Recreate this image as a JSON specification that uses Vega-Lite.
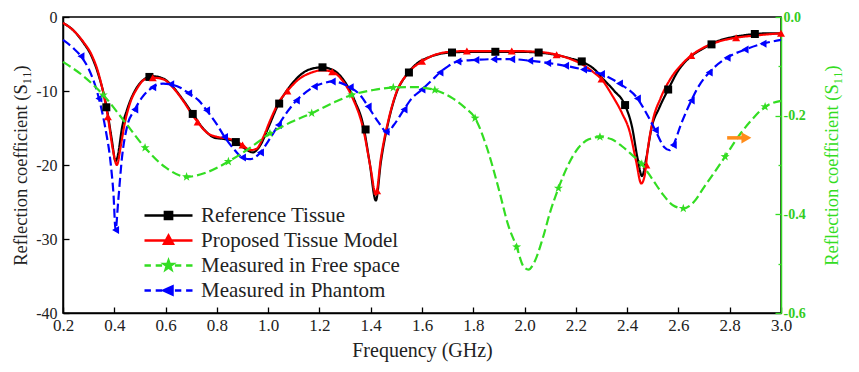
{
  "$schema": "https://vega.github.io/schema/vega-lite/v6.json",
  "width": 718,
  "height": 296,
  "autosize": {"type": "none"},
  "padding": {"left": 63, "top": 17, "right": 78, "bottom": 59},
  "background": "white",
  "config": {
    "view": {"stroke": "black", "strokeWidth": 1.5},
    "font": "Liberation Serif",
    "axis": {"grid": false, "labelFont": "Liberation Serif", "titleFont": "Liberation Serif", "labelColor": "#222", "titleColor": "#222", "titleFontWeight": "normal", "labelFlush": false, "labelOverlap": false, "labelBound": false}
  },
  "datasets": {
    "lines": [
      {"s":"Reference Tissue","f":0.2,"v":-0.8},{"s":"Reference Tissue","f":0.24,"v":-1.8},{"s":"Reference Tissue","f":0.28,"v":-3.5},{"s":"Reference Tissue","f":0.31,"v":-5.2},{"s":"Reference Tissue","f":0.34,"v":-8.0},{"s":"Reference Tissue","f":0.37,"v":-12.2},{"s":"Reference Tissue","f":0.39,"v":-16.5},{"s":"Reference Tissue","f":0.405,"v":-19.5},{"s":"Reference Tissue","f":0.415,"v":-18.5},{"s":"Reference Tissue","f":0.43,"v":-15.0},{"s":"Reference Tissue","f":0.45,"v":-12.5},{"s":"Reference Tissue","f":0.48,"v":-10.0},{"s":"Reference Tissue","f":0.51,"v":-8.6},{"s":"Reference Tissue","f":0.55,"v":-8.0},{"s":"Reference Tissue","f":0.59,"v":-8.3},{"s":"Reference Tissue","f":0.63,"v":-9.5},{"s":"Reference Tissue","f":0.67,"v":-11.3},{"s":"Reference Tissue","f":0.71,"v":-13.3},{"s":"Reference Tissue","f":0.75,"v":-15.2},{"s":"Reference Tissue","f":0.79,"v":-16.3},{"s":"Reference Tissue","f":0.83,"v":-16.5},{"s":"Reference Tissue","f":0.87,"v":-16.8},{"s":"Reference Tissue","f":0.91,"v":-17.8},{"s":"Reference Tissue","f":0.94,"v":-18.3},{"s":"Reference Tissue","f":0.97,"v":-17.3},{"s":"Reference Tissue","f":1.0,"v":-15.0},{"s":"Reference Tissue","f":1.04,"v":-11.8},{"s":"Reference Tissue","f":1.08,"v":-9.6},{"s":"Reference Tissue","f":1.12,"v":-8.0},{"s":"Reference Tissue","f":1.16,"v":-7.1},{"s":"Reference Tissue","f":1.21,"v":-6.8},{"s":"Reference Tissue","f":1.26,"v":-7.3},{"s":"Reference Tissue","f":1.3,"v":-8.8},{"s":"Reference Tissue","f":1.34,"v":-11.5},{"s":"Reference Tissue","f":1.37,"v":-14.5},{"s":"Reference Tissue","f":1.395,"v":-19.5},{"s":"Reference Tissue","f":1.42,"v":-24.8},{"s":"Reference Tissue","f":1.44,"v":-19.5},{"s":"Reference Tissue","f":1.47,"v":-14.0},{"s":"Reference Tissue","f":1.5,"v":-10.3},{"s":"Reference Tissue","f":1.54,"v":-7.8},{"s":"Reference Tissue","f":1.58,"v":-6.3},{"s":"Reference Tissue","f":1.63,"v":-5.4},{"s":"Reference Tissue","f":1.71,"v":-4.8},{"s":"Reference Tissue","f":1.8,"v":-4.7},{"s":"Reference Tissue","f":1.89,"v":-4.7},{"s":"Reference Tissue","f":1.97,"v":-4.7},{"s":"Reference Tissue","f":2.05,"v":-4.8},{"s":"Reference Tissue","f":2.12,"v":-5.1},{"s":"Reference Tissue","f":2.18,"v":-5.6},{"s":"Reference Tissue","f":2.22,"v":-6.0},{"s":"Reference Tissue","f":2.27,"v":-7.0},{"s":"Reference Tissue","f":2.31,"v":-8.5},{"s":"Reference Tissue","f":2.35,"v":-10.0},{"s":"Reference Tissue","f":2.39,"v":-11.8},{"s":"Reference Tissue","f":2.42,"v":-15.0},{"s":"Reference Tissue","f":2.44,"v":-19.0},{"s":"Reference Tissue","f":2.458,"v":-21.5},{"s":"Reference Tissue","f":2.475,"v":-19.0},{"s":"Reference Tissue","f":2.495,"v":-15.0},{"s":"Reference Tissue","f":2.525,"v":-12.3},{"s":"Reference Tissue","f":2.56,"v":-9.8},{"s":"Reference Tissue","f":2.6,"v":-7.2},{"s":"Reference Tissue","f":2.65,"v":-5.3},{"s":"Reference Tissue","f":2.7,"v":-4.2},{"s":"Reference Tissue","f":2.75,"v":-3.3},{"s":"Reference Tissue","f":2.8,"v":-2.8},{"s":"Reference Tissue","f":2.85,"v":-2.5},{"s":"Reference Tissue","f":2.9,"v":-2.3},{"s":"Reference Tissue","f":2.95,"v":-2.2},{"s":"Reference Tissue","f":3.0,"v":-2.2},

      {"s":"Proposed Tissue Model","f":0.2,"v":-0.8},{"s":"Proposed Tissue Model","f":0.24,"v":-1.8},{"s":"Proposed Tissue Model","f":0.28,"v":-3.4},{"s":"Proposed Tissue Model","f":0.31,"v":-5.0},{"s":"Proposed Tissue Model","f":0.34,"v":-7.8},{"s":"Proposed Tissue Model","f":0.375,"v":-13.5},{"s":"Proposed Tissue Model","f":0.395,"v":-18.0},{"s":"Proposed Tissue Model","f":0.41,"v":-20.0},{"s":"Proposed Tissue Model","f":0.425,"v":-17.5},{"s":"Proposed Tissue Model","f":0.44,"v":-14.5},{"s":"Proposed Tissue Model","f":0.46,"v":-11.8},{"s":"Proposed Tissue Model","f":0.49,"v":-9.6},{"s":"Proposed Tissue Model","f":0.52,"v":-8.4},{"s":"Proposed Tissue Model","f":0.55,"v":-8.2},{"s":"Proposed Tissue Model","f":0.59,"v":-8.4},{"s":"Proposed Tissue Model","f":0.63,"v":-9.6},{"s":"Proposed Tissue Model","f":0.67,"v":-11.4},{"s":"Proposed Tissue Model","f":0.7,"v":-13.0},{"s":"Proposed Tissue Model","f":0.725,"v":-14.2},{"s":"Proposed Tissue Model","f":0.76,"v":-15.6},{"s":"Proposed Tissue Model","f":0.8,"v":-16.2},{"s":"Proposed Tissue Model","f":0.84,"v":-16.4},{"s":"Proposed Tissue Model","f":0.87,"v":-16.7},{"s":"Proposed Tissue Model","f":0.9,"v":-17.3},{"s":"Proposed Tissue Model","f":0.93,"v":-18.0},{"s":"Proposed Tissue Model","f":0.955,"v":-17.8},{"s":"Proposed Tissue Model","f":0.98,"v":-16.3},{"s":"Proposed Tissue Model","f":1.01,"v":-13.8},{"s":"Proposed Tissue Model","f":1.04,"v":-11.6},{"s":"Proposed Tissue Model","f":1.075,"v":-10.0},{"s":"Proposed Tissue Model","f":1.12,"v":-8.4},{"s":"Proposed Tissue Model","f":1.17,"v":-7.5},{"s":"Proposed Tissue Model","f":1.21,"v":-7.2},{"s":"Proposed Tissue Model","f":1.25,"v":-7.4},{"s":"Proposed Tissue Model","f":1.29,"v":-8.6},{"s":"Proposed Tissue Model","f":1.33,"v":-11.0},{"s":"Proposed Tissue Model","f":1.37,"v":-15.0},{"s":"Proposed Tissue Model","f":1.4,"v":-20.5},{"s":"Proposed Tissue Model","f":1.42,"v":-24.0},{"s":"Proposed Tissue Model","f":1.44,"v":-19.0},{"s":"Proposed Tissue Model","f":1.47,"v":-13.8},{"s":"Proposed Tissue Model","f":1.5,"v":-10.2},{"s":"Proposed Tissue Model","f":1.54,"v":-7.8},{"s":"Proposed Tissue Model","f":1.6,"v":-6.0},{"s":"Proposed Tissue Model","f":1.66,"v":-5.0},{"s":"Proposed Tissue Model","f":1.71,"v":-4.7},{"s":"Proposed Tissue Model","f":1.775,"v":-4.6},{"s":"Proposed Tissue Model","f":1.85,"v":-4.6},{"s":"Proposed Tissue Model","f":1.95,"v":-4.6},{"s":"Proposed Tissue Model","f":2.05,"v":-4.7},{"s":"Proposed Tissue Model","f":2.125,"v":-5.1},{"s":"Proposed Tissue Model","f":2.18,"v":-5.7},{"s":"Proposed Tissue Model","f":2.23,"v":-6.5},{"s":"Proposed Tissue Model","f":2.27,"v":-7.5},{"s":"Proposed Tissue Model","f":2.3,"v":-8.4},{"s":"Proposed Tissue Model","f":2.34,"v":-10.5},{"s":"Proposed Tissue Model","f":2.38,"v":-13.0},{"s":"Proposed Tissue Model","f":2.41,"v":-15.5},{"s":"Proposed Tissue Model","f":2.435,"v":-19.5},{"s":"Proposed Tissue Model","f":2.455,"v":-22.5},{"s":"Proposed Tissue Model","f":2.468,"v":-21.5},{"s":"Proposed Tissue Model","f":2.48,"v":-18.0},{"s":"Proposed Tissue Model","f":2.5,"v":-14.0},{"s":"Proposed Tissue Model","f":2.53,"v":-11.0},{"s":"Proposed Tissue Model","f":2.57,"v":-8.3},{"s":"Proposed Tissue Model","f":2.61,"v":-6.5},{"s":"Proposed Tissue Model","f":2.65,"v":-5.2},{"s":"Proposed Tissue Model","f":2.7,"v":-4.1},{"s":"Proposed Tissue Model","f":2.75,"v":-3.4},{"s":"Proposed Tissue Model","f":2.825,"v":-2.8},{"s":"Proposed Tissue Model","f":2.9,"v":-2.5},{"s":"Proposed Tissue Model","f":3.0,"v":-2.2},

      {"s":"Measured in Phantom","f":0.2,"v":-3.1},{"s":"Measured in Phantom","f":0.24,"v":-4.2},{"s":"Measured in Phantom","f":0.27,"v":-5.3},{"s":"Measured in Phantom","f":0.3,"v":-7.0},{"s":"Measured in Phantom","f":0.34,"v":-11.0},{"s":"Measured in Phantom","f":0.365,"v":-15.0},{"s":"Measured in Phantom","f":0.385,"v":-19.5},{"s":"Measured in Phantom","f":0.397,"v":-24.0},{"s":"Measured in Phantom","f":0.405,"v":-28.8},{"s":"Measured in Phantom","f":0.415,"v":-25.0},{"s":"Measured in Phantom","f":0.43,"v":-19.0},{"s":"Measured in Phantom","f":0.45,"v":-14.8},{"s":"Measured in Phantom","f":0.48,"v":-12.5},{"s":"Measured in Phantom","f":0.51,"v":-10.8},{"s":"Measured in Phantom","f":0.55,"v":-9.5},{"s":"Measured in Phantom","f":0.59,"v":-9.0},{"s":"Measured in Phantom","f":0.62,"v":-9.1},{"s":"Measured in Phantom","f":0.66,"v":-9.6},{"s":"Measured in Phantom","f":0.69,"v":-10.3},{"s":"Measured in Phantom","f":0.73,"v":-11.3},{"s":"Measured in Phantom","f":0.76,"v":-12.6},{"s":"Measured in Phantom","f":0.8,"v":-14.5},{"s":"Measured in Phantom","f":0.83,"v":-16.2},{"s":"Measured in Phantom","f":0.87,"v":-18.0},{"s":"Measured in Phantom","f":0.9,"v":-19.0},{"s":"Measured in Phantom","f":0.93,"v":-19.2},{"s":"Measured in Phantom","f":0.97,"v":-18.3},{"s":"Measured in Phantom","f":1.0,"v":-16.8},{"s":"Measured in Phantom","f":1.04,"v":-14.6},{"s":"Measured in Phantom","f":1.075,"v":-12.8},{"s":"Measured in Phantom","f":1.11,"v":-11.3},{"s":"Measured in Phantom","f":1.15,"v":-10.1},{"s":"Measured in Phantom","f":1.18,"v":-9.4},{"s":"Measured in Phantom","f":1.22,"v":-8.9},{"s":"Measured in Phantom","f":1.25,"v":-8.7},{"s":"Measured in Phantom","f":1.29,"v":-9.0},{"s":"Measured in Phantom","f":1.32,"v":-9.5},{"s":"Measured in Phantom","f":1.36,"v":-10.6},{"s":"Measured in Phantom","f":1.39,"v":-12.1},{"s":"Measured in Phantom","f":1.43,"v":-14.2},{"s":"Measured in Phantom","f":1.465,"v":-15.6},{"s":"Measured in Phantom","f":1.49,"v":-14.6},{"s":"Measured in Phantom","f":1.53,"v":-12.5},{"s":"Measured in Phantom","f":1.56,"v":-11.0},{"s":"Measured in Phantom","f":1.6,"v":-9.8},{"s":"Measured in Phantom","f":1.64,"v":-8.5},{"s":"Measured in Phantom","f":1.67,"v":-7.5},{"s":"Measured in Phantom","f":1.7,"v":-6.7},{"s":"Measured in Phantom","f":1.74,"v":-6.0},{"s":"Measured in Phantom","f":1.81,"v":-5.8},{"s":"Measured in Phantom","f":1.88,"v":-5.7},{"s":"Measured in Phantom","f":1.95,"v":-5.7},{"s":"Measured in Phantom","f":2.02,"v":-5.9},{"s":"Measured in Phantom","f":2.09,"v":-6.2},{"s":"Measured in Phantom","f":2.16,"v":-6.6},{"s":"Measured in Phantom","f":2.23,"v":-7.1},{"s":"Measured in Phantom","f":2.3,"v":-7.7},{"s":"Measured in Phantom","f":2.37,"v":-9.0},{"s":"Measured in Phantom","f":2.44,"v":-11.0},{"s":"Measured in Phantom","f":2.475,"v":-13.0},{"s":"Measured in Phantom","f":2.51,"v":-15.3},{"s":"Measured in Phantom","f":2.545,"v":-17.6},{"s":"Measured in Phantom","f":2.565,"v":-18.0},{"s":"Measured in Phantom","f":2.58,"v":-17.3},{"s":"Measured in Phantom","f":2.61,"v":-14.5},{"s":"Measured in Phantom","f":2.65,"v":-11.3},{"s":"Measured in Phantom","f":2.68,"v":-9.3},{"s":"Measured in Phantom","f":2.72,"v":-7.5},{"s":"Measured in Phantom","f":2.79,"v":-5.5},{"s":"Measured in Phantom","f":2.86,"v":-4.4},{"s":"Measured in Phantom","f":2.93,"v":-3.6},{"s":"Measured in Phantom","f":3.0,"v":-3.1}
    ],
    "marks": [
      {"s":"Reference Tissue","f":0.369,"v":-12.2},{"s":"Reference Tissue","f":0.537,"v":-8.1},{"s":"Reference Tissue","f":0.706,"v":-13.1},{"s":"Reference Tissue","f":0.874,"v":-16.9},{"s":"Reference Tissue","f":1.043,"v":-11.7},{"s":"Reference Tissue","f":1.212,"v":-6.8},{"s":"Reference Tissue","f":1.38,"v":-15.2},{"s":"Reference Tissue","f":1.549,"v":-7.5},{"s":"Reference Tissue","f":1.717,"v":-4.8},{"s":"Reference Tissue","f":1.886,"v":-4.7},{"s":"Reference Tissue","f":2.055,"v":-4.8},{"s":"Reference Tissue","f":2.223,"v":-6.0},{"s":"Reference Tissue","f":2.392,"v":-11.9},{"s":"Reference Tissue","f":2.56,"v":-9.8},{"s":"Reference Tissue","f":2.729,"v":-3.7},{"s":"Reference Tissue","f":2.898,"v":-2.3},
      {"s":"Proposed Tissue Model","f":0.375,"v":-13.5},{"s":"Proposed Tissue Model","f":0.55,"v":-8.2},{"s":"Proposed Tissue Model","f":0.725,"v":-14.2},{"s":"Proposed Tissue Model","f":0.9,"v":-17.3},{"s":"Proposed Tissue Model","f":1.075,"v":-10.0},{"s":"Proposed Tissue Model","f":1.25,"v":-7.4},{"s":"Proposed Tissue Model","f":1.425,"v":-23.5},{"s":"Proposed Tissue Model","f":1.6,"v":-6.0},{"s":"Proposed Tissue Model","f":1.775,"v":-4.6},{"s":"Proposed Tissue Model","f":1.95,"v":-4.6},{"s":"Proposed Tissue Model","f":2.125,"v":-5.1},{"s":"Proposed Tissue Model","f":2.3,"v":-8.4},{"s":"Proposed Tissue Model","f":2.475,"v":-20.0},{"s":"Proposed Tissue Model","f":2.65,"v":-5.2},{"s":"Proposed Tissue Model","f":2.825,"v":-2.8},{"s":"Proposed Tissue Model","f":3.0,"v":-2.2},
      {"s":"Measured in Phantom","f":0.27,"v":-5.3},{"s":"Measured in Phantom","f":0.34,"v":-11.0},{"s":"Measured in Phantom","f":0.405,"v":-28.8},{"s":"Measured in Phantom","f":0.48,"v":-12.5},{"s":"Measured in Phantom","f":0.55,"v":-9.5},{"s":"Measured in Phantom","f":0.62,"v":-9.1},{"s":"Measured in Phantom","f":0.69,"v":-10.3},{"s":"Measured in Phantom","f":0.76,"v":-12.6},{"s":"Measured in Phantom","f":0.83,"v":-16.2},{"s":"Measured in Phantom","f":0.9,"v":-19.0},{"s":"Measured in Phantom","f":0.97,"v":-18.3},{"s":"Measured in Phantom","f":1.04,"v":-14.6},{"s":"Measured in Phantom","f":1.11,"v":-11.3},{"s":"Measured in Phantom","f":1.18,"v":-9.4},{"s":"Measured in Phantom","f":1.25,"v":-8.7},{"s":"Measured in Phantom","f":1.32,"v":-9.5},{"s":"Measured in Phantom","f":1.39,"v":-12.1},{"s":"Measured in Phantom","f":1.46,"v":-15.5},{"s":"Measured in Phantom","f":1.53,"v":-12.5},{"s":"Measured in Phantom","f":1.6,"v":-9.8},{"s":"Measured in Phantom","f":1.67,"v":-7.5},{"s":"Measured in Phantom","f":1.74,"v":-6.0},{"s":"Measured in Phantom","f":1.81,"v":-5.8},{"s":"Measured in Phantom","f":1.88,"v":-5.7},{"s":"Measured in Phantom","f":1.95,"v":-5.7},{"s":"Measured in Phantom","f":2.02,"v":-5.9},{"s":"Measured in Phantom","f":2.09,"v":-6.2},{"s":"Measured in Phantom","f":2.16,"v":-6.6},{"s":"Measured in Phantom","f":2.23,"v":-7.1},{"s":"Measured in Phantom","f":2.3,"v":-7.7},{"s":"Measured in Phantom","f":2.37,"v":-9.0},{"s":"Measured in Phantom","f":2.44,"v":-11.0},{"s":"Measured in Phantom","f":2.51,"v":-15.3},{"s":"Measured in Phantom","f":2.58,"v":-17.3},{"s":"Measured in Phantom","f":2.65,"v":-11.3},{"s":"Measured in Phantom","f":2.72,"v":-7.5},{"s":"Measured in Phantom","f":2.79,"v":-5.5},{"s":"Measured in Phantom","f":2.86,"v":-4.4},{"s":"Measured in Phantom","f":2.93,"v":-3.6}
    ],
    "green": [
      {"s":"Measured in Free space","f":0.2,"g":-0.091},{"s":"Measured in Free space","f":0.28,"g":-0.12},{"s":"Measured in Free space","f":0.357,"g":-0.158},{"s":"Measured in Free space","f":0.44,"g":-0.212},{"s":"Measured in Free space","f":0.52,"g":-0.265},{"s":"Measured in Free space","f":0.6,"g":-0.305},{"s":"Measured in Free space","f":0.682,"g":-0.324},{"s":"Measured in Free space","f":0.76,"g":-0.315},{"s":"Measured in Free space","f":0.845,"g":-0.293},{"s":"Measured in Free space","f":0.93,"g":-0.265},{"s":"Measured in Free space","f":1.007,"g":-0.236},{"s":"Measured in Free space","f":1.09,"g":-0.213},{"s":"Measured in Free space","f":1.17,"g":-0.195},{"s":"Measured in Free space","f":1.25,"g":-0.175},{"s":"Measured in Free space","f":1.326,"g":-0.158},{"s":"Measured in Free space","f":1.41,"g":-0.148},{"s":"Measured in Free space","f":1.488,"g":-0.143},{"s":"Measured in Free space","f":1.57,"g":-0.142},{"s":"Measured in Free space","f":1.65,"g":-0.148},{"s":"Measured in Free space","f":1.72,"g":-0.165},{"s":"Measured in Free space","f":1.77,"g":-0.185},{"s":"Measured in Free space","f":1.807,"g":-0.205},{"s":"Measured in Free space","f":1.85,"g":-0.26},{"s":"Measured in Free space","f":1.9,"g":-0.35},{"s":"Measured in Free space","f":1.935,"g":-0.42},{"s":"Measured in Free space","f":1.969,"g":-0.466},{"s":"Measured in Free space","f":1.995,"g":-0.505},{"s":"Measured in Free space","f":2.015,"g":-0.512},{"s":"Measured in Free space","f":2.04,"g":-0.495},{"s":"Measured in Free space","f":2.07,"g":-0.45},{"s":"Measured in Free space","f":2.1,"g":-0.395},{"s":"Measured in Free space","f":2.132,"g":-0.347},{"s":"Measured in Free space","f":2.17,"g":-0.3},{"s":"Measured in Free space","f":2.21,"g":-0.265},{"s":"Measured in Free space","f":2.25,"g":-0.248},{"s":"Measured in Free space","f":2.294,"g":-0.243},{"s":"Measured in Free space","f":2.34,"g":-0.248},{"s":"Measured in Free space","f":2.38,"g":-0.262},{"s":"Measured in Free space","f":2.42,"g":-0.28},{"s":"Measured in Free space","f":2.457,"g":-0.298},{"s":"Measured in Free space","f":2.5,"g":-0.33},{"s":"Measured in Free space","f":2.54,"g":-0.36},{"s":"Measured in Free space","f":2.58,"g":-0.382},{"s":"Measured in Free space","f":2.619,"g":-0.388},{"s":"Measured in Free space","f":2.66,"g":-0.375},{"s":"Measured in Free space","f":2.7,"g":-0.345},{"s":"Measured in Free space","f":2.74,"g":-0.315},{"s":"Measured in Free space","f":2.782,"g":-0.283},{"s":"Measured in Free space","f":2.83,"g":-0.245},{"s":"Measured in Free space","f":2.88,"g":-0.212},{"s":"Measured in Free space","f":2.938,"g":-0.182},{"s":"Measured in Free space","f":3.0,"g":-0.17}
    ],
    "greenMarks": [
      {"s":"Measured in Free space","f":0.357,"g":-0.158},{"s":"Measured in Free space","f":0.52,"g":-0.265},{"s":"Measured in Free space","f":0.682,"g":-0.324},{"s":"Measured in Free space","f":0.845,"g":-0.293},{"s":"Measured in Free space","f":1.007,"g":-0.236},{"s":"Measured in Free space","f":1.17,"g":-0.195},{"s":"Measured in Free space","f":1.326,"g":-0.158},{"s":"Measured in Free space","f":1.488,"g":-0.143},{"s":"Measured in Free space","f":1.65,"g":-0.148},{"s":"Measured in Free space","f":1.807,"g":-0.205},{"s":"Measured in Free space","f":1.969,"g":-0.466},{"s":"Measured in Free space","f":2.132,"g":-0.347},{"s":"Measured in Free space","f":2.294,"g":-0.243},{"s":"Measured in Free space","f":2.457,"g":-0.298},{"s":"Measured in Free space","f":2.619,"g":-0.388},{"s":"Measured in Free space","f":2.782,"g":-0.283},{"s":"Measured in Free space","f":2.938,"g":-0.182}
    ],
    "arrow": [{"f":2.79,"f2":2.865,"g":-0.245}]
  },
  "layer": [
    {
      "layer": [
        {
          "data": {"name": "lines"},
          "mark": {"type": "line", "interpolate": "monotone", "strokeWidth": 2.2},
          "encoding": {
            "x": {"field": "f", "type": "quantitative", "scale": {"domain": [0.2, 3.0], "nice": false, "zero": false},
              "axis": {"title": "Frequency (GHz)", "values": [0.2,0.3,0.4,0.5,0.6,0.7,0.8,0.9,1.0,1.1,1.2,1.3,1.4,1.5,1.6,1.7,1.8,1.9,2.0,2.1,2.2,2.3,2.4,2.5,2.6,2.7,2.8,2.9,3.0], "format": ".1f",
                "labelExpr": "abs(round(datum.value*10)) % 2 == 0 ? datum.label : ''",
                "tickSize": {"condition": {"test": "abs(round(datum.value*10)) % 2 == 1", "value": -3}, "value": -6},
                "domainColor": "black", "domainWidth": 1.5, "tickColor": "black", "tickWidth": 1.3,
                "labelFontSize": 17, "labelPadding": 10, "titleFontSize": 20, "titlePadding": 7}},
            "y": {"field": "v", "type": "quantitative", "scale": {"domain": [-40, 0], "nice": false},
              "axis": {"orient": "left", "title": "Reflection coefficient (S₁₁)", "values": [-40,-35,-30,-25,-20,-15,-10,-5,0],
                "labelExpr": "abs(datum.value) % 10 == 0 ? replace(datum.label, '−', '-') : ''",
                "tickSize": {"condition": {"test": "abs(datum.value) % 10 != 0", "value": -3}, "value": -6},
                "domainColor": "black", "domainWidth": 1.5, "tickColor": "black", "tickWidth": 1.3,
                "labelFontSize": 16, "labelPadding": 12, "titleFontSize": 18.5, "titlePadding": 5}},
            "color": {"field": "s", "type": "nominal",
              "scale": {"domain": ["Reference Tissue", "Proposed Tissue Model", "Measured in Free space", "Measured in Phantom"], "range": ["#000000", "#ff0000", "#33dd22", "#0000ff"]},
              "legend": {"orient": "none", "legendX": 95, "legendY": 188, "title": null, "padding": 0,
                "symbolSize": 256, "labelFontSize": 21, "labelFont": "Liberation Serif", "labelColor": "#222", "labelOffset": 22, "rowPadding": 3, "labelLimit": 400,
                "encode": {"symbols": {"update": {
                  "shape": {"signal": "datum.value === 'Reference Tissue' ? 'M-3,0L3,0M-0.45,-0.45L0.45,-0.45L0.45,0.45L-0.45,0.45Z' : datum.value === 'Proposed Tissue Model' ? 'M-3,0L3,0M0,-0.6L0.55,0.4L-0.55,0.4Z' : datum.value === 'Measured in Free space' ? 'M-3,0L-2.2,0M-1.6,0L-0.8,0M0.8,0L1.6,0M2.2,0L3,0M0,-0.6L0.141,-0.195L0.571,-0.185L0.228,0.074L0.353,0.485L0,0.24L-0.353,0.485L-0.228,0.074L-0.571,-0.185L-0.141,-0.195Z' : 'M-3,0L-2.2,0M-1.6,0L-0.8,0M0.8,0L1.6,0M2.2,0L3,0M-0.6,0L0.5,-0.5L0.5,0.5Z'"},
                  "fill": {"signal": "scale('color', datum.value)"},
                  "stroke": {"signal": "scale('color', datum.value)"},
                  "strokeWidth": {"value": 2.5},
                  "opacity": {"value": 1}
                }}}}},
            "strokeDash": {"field": "s", "type": "nominal", "scale": {"domain": ["Reference Tissue", "Proposed Tissue Model", "Measured in Phantom"], "range": [[1, 0], [1, 0], [9, 4]]}, "legend": null}
          }
        },
        {
          "data": {"name": "marks"},
          "mark": {"type": "point", "filled": true, "opacity": 1},
          "encoding": {
            "x": {"field": "f", "type": "quantitative"},
            "y": {"field": "v", "type": "quantitative"},
            "color": {"field": "s", "type": "nominal"},
            "shape": {"field": "s", "type": "nominal", "scale": {"domain": ["Reference Tissue", "Proposed Tissue Model", "Measured in Phantom"], "range": ["square", "triangle-up", "triangle-left"]}, "legend": null},
            "size": {"value": 64}
          }
        }
      ]
    },
    {
      "layer": [
        {
          "data": {"name": "green"},
          "mark": {"type": "line", "interpolate": "monotone", "strokeWidth": 2.2, "strokeDash": [9, 4]},
          "encoding": {
            "x": {"field": "f", "type": "quantitative"},
            "y": {"field": "g", "type": "quantitative", "scale": {"domain": [-0.6, 0], "nice": false},
              "axis": {"orient": "right", "title": "Reflection coefficient (S₁₁)", "titleAngle": 270, "values": [-0.6,-0.5,-0.4,-0.3,-0.2,-0.1,0],
                "format": ".1f",
                "labelExpr": "abs(round(datum.value*10)) % 2 == 0 ? replace(datum.label, '−', '-') : ''",
                "tickSize": {"condition": {"test": "abs(round(datum.value*10)) % 2 == 1", "value": -3}, "value": -6},
                "domainColor": "#33dd22", "domainWidth": 1.5, "tickColor": "#33dd22", "tickWidth": 1.3,
                "labelColor": "#33cc22", "labelFontWeight": "bold", "labelFontSize": 14, "labelPadding": 8,
                "titleColor": "#33dd22", "titleFontSize": 18.5, "titlePadding": 36}},
            "color": {"field": "s", "type": "nominal"}
          }
        },
        {
          "data": {"name": "greenMarks"},
          "mark": {"type": "point", "filled": true, "opacity": 1, "shape": "M0,-1L0.235,-0.324L0.951,-0.309L0.38,0.124L0.588,0.809L0,0.4L-0.588,0.809L-0.38,0.124L-0.951,-0.309L-0.235,-0.324Z", "size": 90},
          "encoding": {
            "x": {"field": "f", "type": "quantitative"},
            "y": {"field": "g", "type": "quantitative"},
            "color": {"field": "s", "type": "nominal"}
          }
        },
        {
          "data": {"name": "arrow"},
          "mark": {"type": "rule", "color": "#ff8c1a", "strokeWidth": 3.5},
          "encoding": {
            "x": {"field": "f", "type": "quantitative"},
            "x2": {"field": "f2"},
            "y": {"field": "g", "type": "quantitative"}
          }
        },
        {
          "data": {"name": "arrow"},
          "mark": {"type": "point", "shape": "triangle-right", "filled": true, "color": "#ff8c1a", "size": 130, "opacity": 1},
          "encoding": {
            "x": {"field": "f2", "type": "quantitative"},
            "y": {"field": "g", "type": "quantitative"}
          }
        }
      ]
    }
  ],
  "resolve": {"scale": {"y": "independent"}}
}
